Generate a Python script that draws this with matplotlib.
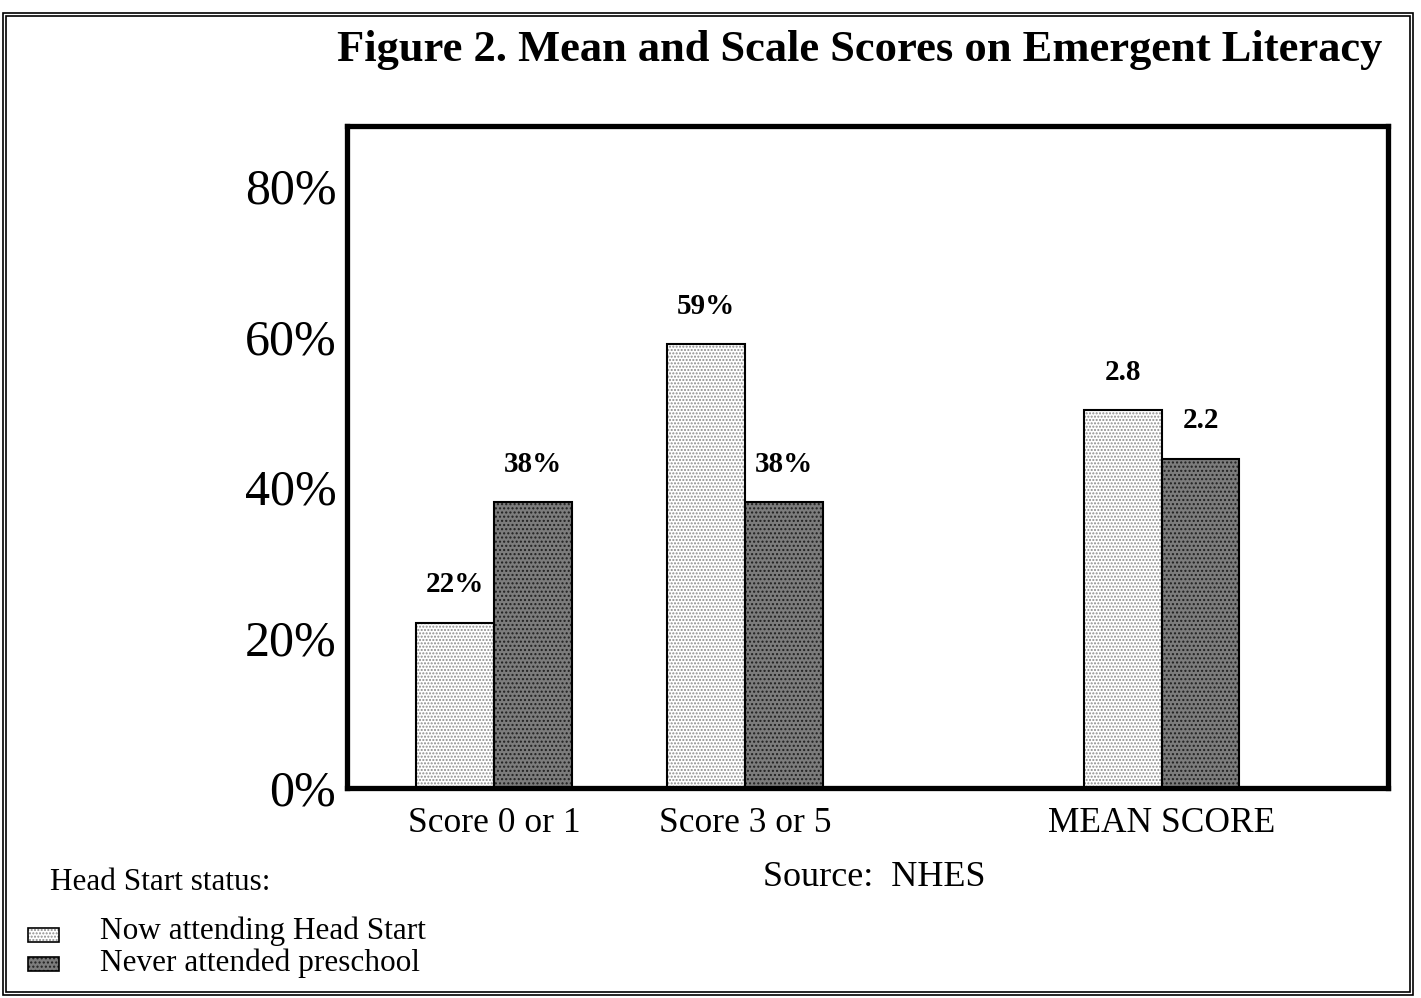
import matplotlib.pyplot as plt
from matplotlib.patches import Rectangle

plt.rcParams['font.family'] = ['Liberation Serif', 'DejaVu Serif']

groups = ['Score 0 or 1', 'Score 3 or 5', 'MEAN SCORE']
now_attending = [22, 59, 50.2]      # bar heights on the % axis
never_attended = [38, 38, 43.8]
now_labels = ['22%', '59%', '2.8']
never_labels = ['38%', '38%', '2.2']
series_names = ['Now attending Head Start', 'Never attended preschool']
yticks = [0, 20, 40, 60, 80]

pos = [0, 1, 2.66]
w = 0.31

fig = plt.figure(figsize=(14.21, 9.98), dpi=100)
ax = fig.add_axes([0.2445, 0.2104, 0.9768 - 0.2445, 0.8737 - 0.2104])

light_x = [p - w / 2 for p in pos]
dark_x = [p + w / 2 for p in pos]

# fill + dot pattern, then a plain outline on top
ax.bar(light_x, now_attending, w, color='white', edgecolor='#8c8c8c',
       hatch='.....', linewidth=0)
ax.bar(dark_x, never_attended, w, color='#7c7c7c', edgecolor='#202020',
       hatch='....', linewidth=0)
ax.bar(light_x, now_attending, w, fill=False, edgecolor='black', linewidth=1.5)
ax.bar(dark_x, never_attended, w, fill=False, edgecolor='black', linewidth=1.5)

for x, h, t in zip(light_x, now_attending, now_labels):
    ax.text(x, h + 5, t, ha='center', va='center', fontsize=21, fontweight='bold')
for x, h, t in zip(dark_x, never_attended, never_labels):
    ax.text(x, h + 5, t, ha='center', va='center', fontsize=21, fontweight='bold')

ax.set_xlim(-0.584, 3.562)
ax.set_ylim(0, 88)
ax.set_yticks(yticks)
ax.set_yticklabels([f'{v}%' for v in yticks], fontsize=36)
ax.set_xticks(pos)
ax.set_xticklabels(groups, fontsize=25.5)
ax.tick_params(axis='x', length=0, pad=14)
ax.tick_params(axis='y', length=0, pad=8)
for s in ax.spines.values():
    s.set_linewidth(3.8)

fig.text(0.605, 1 - 50 / 998, 'Figure 2. Mean and Scale Scores on Emergent Literacy',
         ha='center', va='center', fontsize=32, fontweight='bold')
fig.text(763 / 1421, 1 - 877 / 998, 'Source:  NHES', ha='left', va='center', fontsize=26)
fig.text(50 / 1421, 1 - 882 / 998, 'Head Start status:', ha='left', va='center', fontsize=22.5)

# legend swatches
for i, (name, fc, hc, hp) in enumerate(zip(series_names, ['white', '#7c7c7c'],
                                           ['#8c8c8c', '#202020'], ['.....', '....'])):
    yc = 1 - (935 + 29 * i) / 998
    fig.patches.append(Rectangle((28 / 1421, yc - 7 / 998), 31 / 1421, 14 / 998,
                                 transform=fig.transFigure, facecolor=fc,
                                 edgecolor=hc, hatch=hp, linewidth=0))
    fig.patches.append(Rectangle((28 / 1421, yc - 7 / 998), 31 / 1421, 14 / 998,
                                 transform=fig.transFigure, fill=False,
                                 edgecolor='black', linewidth=1.2))
    fig.text(100 / 1421, 1 - (931 + 32 * i) / 998, name, ha='left', va='center',
             fontsize=22.5)

# double frame around the figure
fig.patches.append(Rectangle((3 / 1421, 3 / 998), 1410 / 1421, 982 / 998,
                             transform=fig.transFigure, fill=False,
                             edgecolor='black', linewidth=1.2))
fig.patches.append(Rectangle((6 / 1421, 6 / 998), 1404 / 1421, 976 / 998,
                             transform=fig.transFigure, fill=False,
                             edgecolor='black', linewidth=1.2))

fig.savefig('out.png', dpi=100)
